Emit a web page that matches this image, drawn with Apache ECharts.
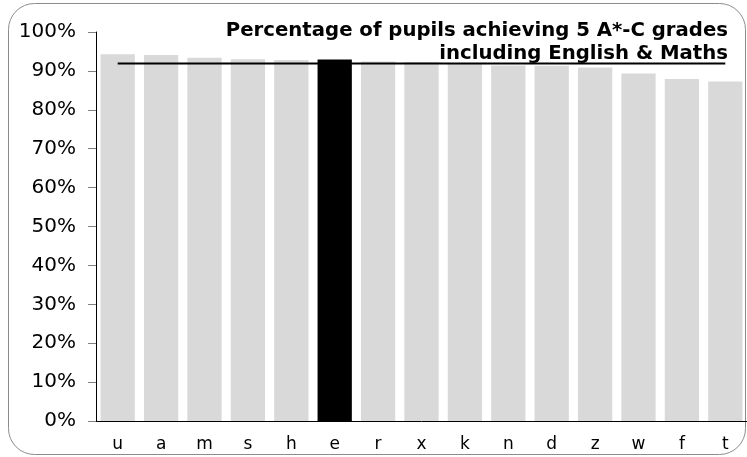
<!DOCTYPE html>
<html>
<head>
<meta charset="utf-8">
<script src="https://cdn.jsdelivr.net/npm/echarts@6/dist/echarts.min.js"></script>
<style>
html,body{margin:0;padding:0;background:#fff;}
#chart{width:747px;height:457px;}
</style>
</head>
<body>
<div id="chart"></div>
<script>
// ---- data ----
const categories = ['u','a','m','s','h','e','r','x','k','n','d','z','w','f','t'];
const percentages = [94.3, 94.1, 93.4, 93.0, 92.8, 92.9, 92.4, 92.3, 92.0, 91.4, 91.3, 90.9, 89.3, 87.9, 87.3];
const averageLine = [91.9, 91.9, 91.9, 91.9, 91.9, 91.9, 91.9, 91.9, 91.9, 91.9, 91.9, 91.9, 91.9, 91.9, 91.9];
const highlightCategory = 'e';
const yTicks = [0, 10, 20, 30, 40, 50, 60, 70, 80, 90, 100];
const titleLines = ['Percentage of pupils achieving 5 A*-C grades', 'including English & Maths'];

const chart = echarts.init(document.getElementById('chart'), null, {renderer: 'canvas'});
const font = 'DejaVu Sans';

const barData = percentages.map((v, i) => ({
  value: v,
  itemStyle: {color: categories[i] === highlightCategory ? '#000000' : '#d9d9d9'}
}));

chart.setOption({
  animation: false,
  backgroundColor: '#ffffff',
  grid: {left: 96, right: 0, top: 32, bottom: 36, containLabel: false},
  xAxis: {
    type: 'category',
    data: categories,
    axisLine: {show: true, lineStyle: {color: '#000', width: 1}},
    axisTick: {show: false},
    axisLabel: {color: '#000', fontFamily: font, fontSize: 17, margin: 15},
    splitLine: {show: false}
  },
  yAxis: {
    type: 'value',
    min: yTicks[0],
    max: yTicks[yTicks.length - 1],
    interval: 10,
    axisLine: {show: true, lineStyle: {color: '#000', width: 1}},
    axisTick: {show: true, length: 8, lineStyle: {color: '#808080'}},
    axisLabel: {color: '#000', fontFamily: font, fontSize: 20, margin: 20, formatter: '{value}%'},
    splitLine: {show: false}
  },
  series: [
    {
      type: 'bar',
      data: barData,
      barCategoryGap: '21%',
      z: 2
    },
    {
      type: 'line',
      data: averageLine,
      symbol: 'none',
      lineStyle: {color: '#000', width: 2},
      z: 3
    }
  ],
  graphic: [
    {
      type: 'rect',
      shape: {x: 8.5, y: 3.5, width: 737, height: 451, r: 26},
      style: {fill: 'none', stroke: '#8c8c8c', lineWidth: 1},
      z: -1,
      silent: true
    },
    {
      type: 'text',
      x: 728,
      y: 19,
      style: {
        text: titleLines.join('\n'),
        align: 'right',
        verticalAlign: 'top',
        font: 'bold 19.7px "DejaVu Sans"',
        lineHeight: 23,
        fill: '#000'
      },
      z: 10
    }
  ]
});
</script>
</body>
</html>
